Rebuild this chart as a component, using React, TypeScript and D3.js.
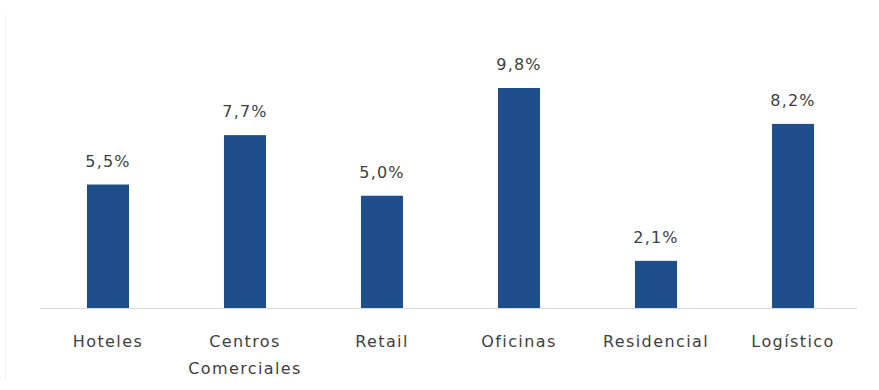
import React from "react";
import * as d3 from "d3";

const categories: string[][] = [["Hoteles"], ["Centros", "Comerciales"], ["Retail"], ["Oficinas"], ["Residencial"], ["Logístico"]];
const values: number[] = [5.5, 7.7, 5.0, 9.8, 2.1, 8.2];

const W = 879;
const H = 390;

export default function App() {
  const keys = categories.map((c) => c.join(" "));
  const x = d3.scaleBand<string>().domain(keys).range([39.5, 861.5]).paddingInner(0.693).paddingOuter(0.3465);
  const y = d3.scaleLinear().domain([0, 9.8]).range([308, 88]);
  const fmt = (v: number) => v.toFixed(1).replace(".", ",") + "%";
  const font = "'DejaVu Sans', sans-serif";
  return (
    <svg width={W} height={H} style={{ position: "absolute", left: 0, top: 0, background: "#fff" }} fontFamily={font}>
      <line x1={5.5} x2={5.5} y1={14} y2={380} stroke="#f0f0f0" strokeWidth={1} />
      <line x1={40} x2={857} y1={308.5} y2={308.5} stroke="#d9d9d9" strokeWidth={1} />
      {keys.map((k, i) => {
        const bx = x(k)!;
        const bw = x.bandwidth();
        const top = y(values[i]);
        const cx = bx + bw / 2;
        return (
          <g key={k}>
            <rect x={bx} y={top} width={bw} height={y(0) - top} fill="#1f4e8c" />
            <text x={cx} y={top - 18} textAnchor="middle" fontSize={16} letterSpacing={1.2} fill="#404040">
              {fmt(values[i])}
            </text>
            {categories[i].map((line, j) => (
              <text key={j} x={cx} y={347 + j * 27} textAnchor="middle" fontSize={16} letterSpacing={1.4} fill="#404040">
                {line}
              </text>
            ))}
          </g>
        );
      })}
    </svg>
  );
}
